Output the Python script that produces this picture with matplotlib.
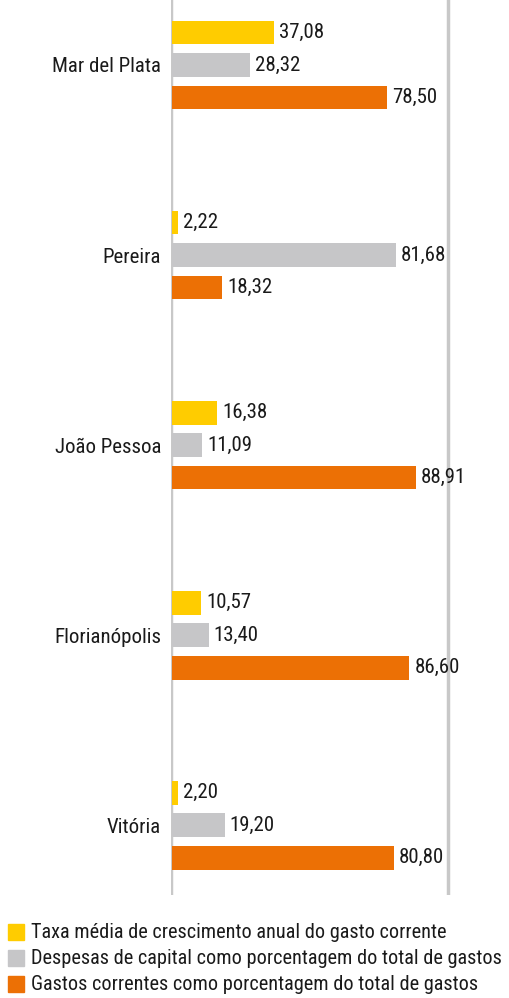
import matplotlib.pyplot as plt
from matplotlib.patches import Rectangle

# Data
cities = ["Mar del Plata", "Pereira", "João Pessoa", "Florianópolis", "Vitória"]
taxa_crescimento = [37.08, 2.22, 16.38, 10.57, 2.20]
despesas_capital = [28.32, 81.68, 11.09, 13.40, 19.20]
gastos_correntes = [78.50, 18.32, 88.91, 86.60, 80.80]
series_names = [
    "Taxa média de crescimento anual do gasto corrente",
    "Despesas de capital como porcentagem do total de gastos",
    "Gastos correntes como porcentagem do total de gastos",
]
colors = ["#FFCC00", "#C6C6C8", "#EC7005"]

plt.rcParams['font.family'] = ['Roboto Condensed', 'DejaVu Sans']

fig = plt.figure(figsize=(5.09, 9.98), dpi=100)
ax = fig.add_axes([171 / 509, 1 - 895 / 998, 1 - 171 / 509, 895 / 998])

offset = 0.171
height = 0.126
fs = 15

for i, (vals, color) in enumerate(zip([taxa_crescimento, despesas_capital, gastos_correntes], colors)):
    ys = [g + (i - 1) * offset for g in range(len(cities))]
    bars = ax.barh(ys, vals, height=height, color=color, zorder=2)
    for bar, v in zip(bars, vals):
        ax.text(v + 1.8, bar.get_y() + height / 2, f"{v:.2f}".replace(".", ","),
                va='center', ha='left', fontsize=fs, color='#1a1a1a')

ax.set_xlim(-0.4, 122.9)
ax.set_ylim(4.368, -0.342)
ax.axvline(-0.4, color='#C8C8C8', lw=2.5, zorder=1)
ax.axvline(100.6, color='#C8C8C8', lw=2.5, zorder=1)

ax.set_yticks(range(len(cities)))
ax.set_yticklabels(cities, fontsize=fs, color='#1a1a1a')
ax.tick_params(axis='y', length=0, pad=7)
ax.set_xticks([])
for s in ax.spines.values():
    s.set_visible(False)

# Legend
for k, (name, color) in enumerate(zip(series_names, colors)):
    yc = 1 - (932 + k * 26) / 998
    fig.patches.append(Rectangle((8 / 509, yc - 8 / 998), 16 / 509, 16 / 998,
                                 transform=fig.transFigure, color=color))
    fig.text(31 / 509, yc, name, va='center', ha='left', fontsize=14.6, color='#1a1a1a')

fig.savefig('out.png', dpi=100)
